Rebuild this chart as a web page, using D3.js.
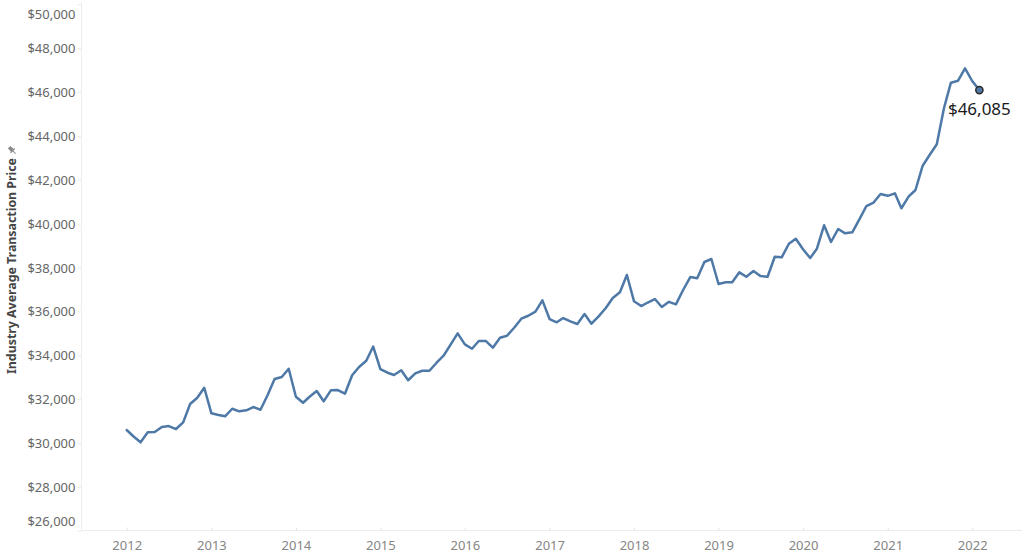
<!DOCTYPE html>
<html>
<head>
<meta charset="utf-8">
<script src="https://cdn.jsdelivr.net/npm/d3@7"></script>
<style>
  html, body { margin: 0; padding: 0; background: #fff; }
  svg { display: block; }
  text { font-family: "Noto Sans", "Open Sans", sans-serif; }
</style>
</head>
<body>
<svg id="chart" width="1022" height="554"></svg>
<script>
// ---- Data (monthly, Jan 2012 – Feb 2022) ----
const startMonth = "2012-01";
const prices = [
  // 2012
  30593, 30287, 30032, 30488, 30501, 30729, 30775, 30638, 30943, 31778, 32065, 32521,
  // 2013
  31354, 31276, 31217, 31563, 31445, 31490, 31641, 31518, 32188, 32917, 33008, 33387,
  // 2014
  32110, 31837, 32110, 32370, 31901, 32402, 32416, 32247, 33086, 33464, 33751, 34398,
  // 2015
  33373, 33204, 33099, 33314, 32862, 33177, 33295, 33295, 33660, 33979, 34499, 35000,
  // 2016
  34499, 34298, 34649, 34649, 34344, 34800, 34891, 35255, 35666, 35802, 35985, 36504,
  // 2017
  35652, 35502, 35698, 35547, 35424, 35880, 35438, 35775, 36153, 36609, 36869, 37657,
  // 2018
  36459, 36244, 36404, 36564, 36199, 36436, 36322, 36974, 37566, 37507, 38250, 38387,
  // 2019
  37247, 37325, 37325, 37780, 37580, 37840, 37612, 37580, 38492, 38464, 39084, 39312,
  // 2020
  38829, 38432, 38856, 39923, 39162, 39754, 39558, 39604, 40201, 40802, 40962, 41349,
  // 2021
  41267, 41381, 40698, 41226, 41532, 42639, 43127, 43615, 45256, 46423, 46514, 47079,
  // 2022
  46500, 46085
];
const yTicks = [26000, 28000, 30000, 32000, 34000, 36000, 38000, 40000, 42000, 44000, 46000, 48000, 50000];
const xTickYears = [2012, 2013, 2014, 2015, 2016, 2017, 2018, 2019, 2020, 2021, 2022];
const yTitle = "Industry Average Transaction Price";

// ---- Build records ----
const parseMonth = d3.timeParse("%Y-%m");
const t0 = parseMonth(startMonth);
const data = prices.map((v, i) => ({ date: d3.timeMonth.offset(t0, i), value: v }));

// ---- Layout ----
const svg = d3.select("#chart");
const W = 1022, H = 554;
const plotLeft = 81.5, plotBottom = 530.5;

const x = d3.scaleTime()
  .domain([new Date(2012, 0, 1), new Date(2022, 0, 1)])
  .range([126.7, 972.2]);
const y = d3.scaleLinear()
  .domain([26000, 50000])
  .range([530.8, 4.2]);

// axis lines (faint)
svg.append("line")
  .attr("x1", plotLeft).attr("x2", plotLeft)
  .attr("y1", 3).attr("y2", plotBottom)
  .attr("stroke", "#ececec").attr("stroke-width", 1);
svg.append("line")
  .attr("x1", plotLeft).attr("x2", W)
  .attr("y1", plotBottom).attr("y2", plotBottom)
  .attr("stroke", "#ececec").attr("stroke-width", 1);

// ---- Y axis ----
const fmt = d3.format("$,");
const yAxis = d3.axisLeft(y).tickValues(yTicks).tickFormat(fmt).tickSize(4).tickPadding(2);
const gy = svg.append("g").attr("transform", `translate(${plotLeft},0)`).call(yAxis);
gy.select(".domain").remove();
gy.selectAll(".tick line").attr("stroke", "#ececec");
gy.selectAll(".tick text")
  .attr("fill", "#666666")
  .style("font-size", "13px")
  .attr("dy", "0.35em")
  .attr("transform", d => {
    const py = y(d);
    const clamped = Math.max(14, Math.min(521, py));
    return `translate(0,${clamped - py})`;
  });

// ---- X axis ----
const xAxis = d3.axisBottom(x)
  .tickValues(xTickYears.map(yr => new Date(yr, 0, 1)))
  .tickFormat(d3.timeFormat("%Y"))
  .tickSize(3).tickPadding(10);
const gx = svg.append("g").attr("transform", `translate(0,${plotBottom - 3})`).call(xAxis);
gx.select(".domain").remove();
gx.selectAll(".tick line").attr("stroke", "#e4e4e4");
gx.selectAll(".tick text")
  .attr("fill", "#858585")
  .style("font-size", "13px");

// ---- Y title ----
const titleG = svg.append("g").attr("transform", "translate(16,158) rotate(-90)");
titleG.append("text")
  .attr("x", 0).attr("y", 0)
  .attr("text-anchor", "end")
  .attr("fill", "#444")
  .style("font-size", "11.5px")
  .style("font-weight", "700")
  .attr("textLength", 216)
  .attr("lengthAdjust", "spacingAndGlyphs")
  .text(yTitle);
// small pin icon
const pin = svg.append("g").attr("transform", "translate(12,150) rotate(-45)").attr("fill", "#8a8a8a").attr("stroke", "#8a8a8a");
pin.append("rect").attr("x", -1.8).attr("y", -4).attr("width", 3.6).attr("height", 4.5).attr("stroke", "none");
pin.append("rect").attr("x", -3).attr("y", 0.3).attr("width", 6).attr("height", 1.2).attr("stroke", "none");
pin.append("line").attr("x1", 0).attr("x2", 0).attr("y1", 1.5).attr("y2", 5).attr("stroke-width", 1);

// ---- Line ----
const line = d3.line().x(d => x(d.date)).y(d => y(d.value));
svg.append("path")
  .datum(data)
  .attr("fill", "none")
  .attr("stroke", "#4e79a7")
  .attr("stroke-width", 2.5)
  .attr("stroke-linejoin", "round")
  .attr("stroke-linecap", "round")
  .attr("d", line);

// ---- Last point marker + label ----
const last = data[data.length - 1];
svg.append("circle")
  .attr("cx", x(last.date)).attr("cy", y(last.value))
  .attr("r", 3.6)
  .attr("fill", "#4e79a7")
  .attr("stroke", "#2b2b2b")
  .attr("stroke-width", 1.5);
svg.append("text")
  .attr("x", x(last.date)).attr("y", y(last.value) + 25)
  .attr("text-anchor", "middle")
  .attr("fill", "#1a1a1a")
  .style("font-size", "17px")
  .text(fmt(last.value));
</script>
</body>
</html>
